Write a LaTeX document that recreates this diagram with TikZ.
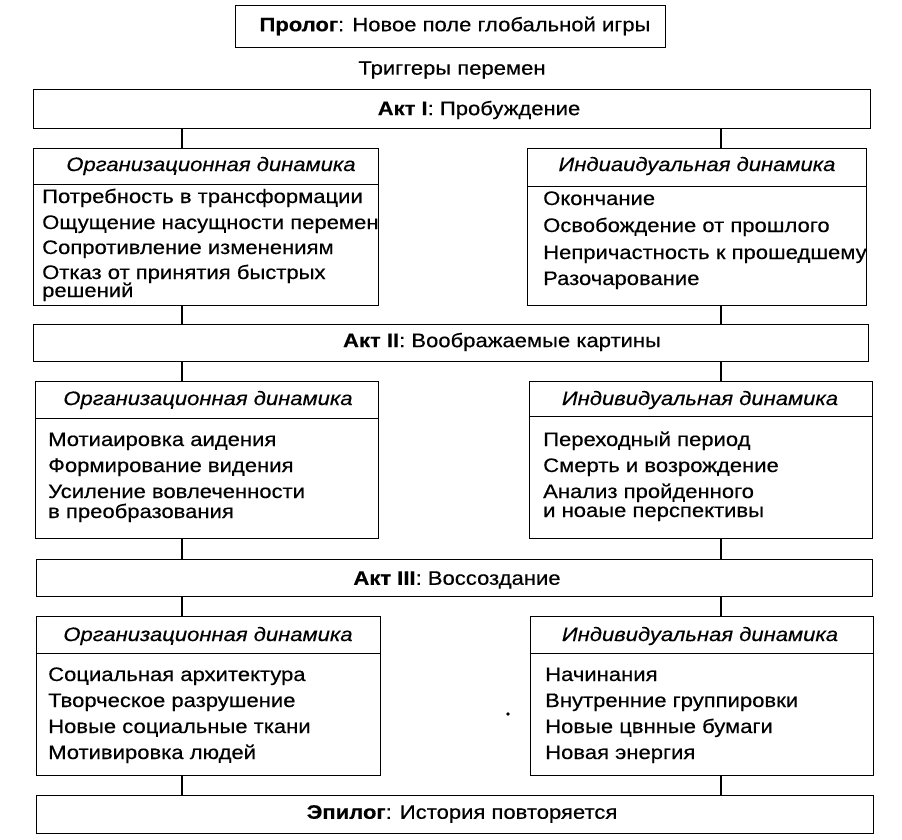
\documentclass[tikz,border=0pt]{standalone}
\usepackage{fontspec}
\setmainfont{Liberation Sans}[FakeStretch=1.13, FakeBold=0.4]
\begin{document}
\begin{tikzpicture}[x=1pt,y=-1pt,
  box/.style={draw, line width=1.4pt, inner sep=0pt, anchor=north west},
  item/.style={anchor=west, inner sep=0pt, font=\fontsize{19.5}{21}\selectfont, text height=14pt, text depth=4pt},
  head/.style={inner sep=0pt, font=\fontsize{19.5}{21}\selectfont\itshape},
  title/.style={inner sep=0pt, font=\fontsize{19.5}{21}\selectfont},
  conn/.style={line width=1.4pt}]
\useasboundingbox (0,0) rectangle (902,840);
% Prologue
\node[box, minimum width=430pt, minimum height=42pt] (prolog) at (235,5) {};
\node[title] (prologt) at (455,26) {\textbf{Пролог}: Новое поле глобальной игры};
\node[title] (trig) at (452,70) {Триггеры перемен};
% Act I
\node[box, minimum width=837pt, minimum height=39pt] (act1) at (33,89) {};
\node[title] (act1t) at (479,110) {\textbf{Акт I}: Пробуждение};
\node[box, minimum width=345pt, minimum height=36pt] (orgAh) at (33,148) {};
\node[box, minimum width=345pt, minimum height=121pt] (orgA) at (33,184) {};
\node[box, minimum width=339pt, minimum height=38pt] (indAh) at (527,148) {};
\node[box, minimum width=339pt, minimum height=119pt] (indA) at (527,186) {};
\node[head] (orgAht) at (211,166) {Организационная динамика};
\node[head] (indAht) at (697,166) {Индиаидуальная динамика};
\node[item] (a1) at (42,198) {Потребность в трансформации};
\node[item] (a2) at (42,224) {Ощущение насущности перемен};
\node[item] (a3) at (42,249) {Сопротивление изменениям};
\node[item] (a4) at (42,274) {Отказ от принятия быстрых};
\node[item] (a5) at (42,292) {решений};
\node[item] (b1) at (543,200) {Окончание};
\node[item] (b2) at (543,227) {Освобождение от прошлого};
\node[item] (b3) at (543,254) {Непричастность к прошедшему};
\node[item] (b4) at (543,280) {Разочарование};
% Act II
\node[box, minimum width=835pt, minimum height=37pt] (act2) at (33,324) {};
\node[title] (act2t) at (502,342) {\textbf{Акт II}: Воображаемые картины};
\node[box, minimum width=343pt, minimum height=37pt] (orgBh) at (35,381) {};
\node[box, minimum width=343pt, minimum height=120pt] (orgB) at (35,418) {};
\node[box, minimum width=343pt, minimum height=35pt] (indBh) at (529,381) {};
\node[box, minimum width=343pt, minimum height=122pt] (indB) at (529,416) {};
\node[head] (orgBht) at (208,400) {Организационная динамика};
\node[head] (indBht) at (700,400) {Индивидуальная динамика};
\node[item] (c1) at (48,441) {Мотиаировка аидения};
\node[item] (c2) at (48,467) {Формирование видения};
\node[item] (c3) at (48,493) {Усиление вовлеченности};
\node[item] (c4) at (48,513) {в преобразования};
\node[item] (d1) at (543,441) {Переходный период};
\node[item] (d2) at (543,467) {Смерть и возрождение};
\node[item] (d3) at (543,493) {Анализ пройденного};
\node[item] (d4) at (543,512) {и ноаые перспективы};
% Act III
\node[box, minimum width=836pt, minimum height=37pt] (act3) at (36,559) {};
\node[title] (act3t) at (457,580) {\textbf{Акт III}: Воссоздание};
\node[box, minimum width=344pt, minimum height=37pt] (orgCh) at (36,616) {};
\node[box, minimum width=344pt, minimum height=122pt] (orgC) at (36,653) {};
\node[box, minimum width=343pt, minimum height=37pt] (indCh) at (530,616) {};
\node[box, minimum width=343pt, minimum height=122pt] (indC) at (530,653) {};
\node[head] (orgCht) at (208,636) {Организационная динамика};
\node[head] (indCht) at (700,636) {Индивидуальная динамика};
\node[item] (e1) at (48,676) {Социальная архитектура};
\node[item] (e2) at (48,702) {Творческое разрушение};
\node[item] (e3) at (48,728) {Новые социальные ткани};
\node[item] (e4) at (48,754) {Мотивировка людей};
\node[item] (f1) at (545,676) {Начинания};
\node[item] (f2) at (545,702) {Внутренние группировки};
\node[item] (f3) at (545,728) {Новые цвнные бумаги};
\node[item] (f4) at (545,754) {Новая энергия};
% Epilogue
\node[box, minimum width=837pt, minimum height=38pt] (epi) at (36,795) {};
\node[title] (epit) at (462,814) {\textbf{Эпилог}: История повторяется};
% connectors
\coordinate (colL) at (182,0);
\coordinate (colR) at (721,0);
\foreach \u/\l in {act1/orgAh, orgA/act2, act2/orgBh, orgB/act3, act3/orgCh, orgC/epi}
  \draw[conn] (\u.south -| colL) -- (\l.north -| colL);
\foreach \u/\l in {act1/indAh, indA/act2, act2/indBh, indB/act3, act3/indCh, indC/epi}
  \draw[conn] (\u.south -| colR) -- (\l.north -| colR);
\fill (508,714) circle (1.8pt);
\end{tikzpicture}
\end{document}
